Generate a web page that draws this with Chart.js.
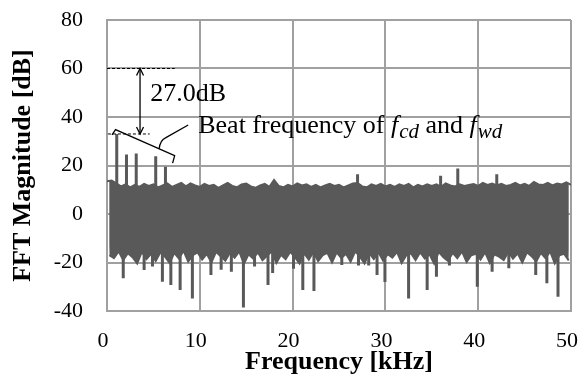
<!DOCTYPE html>
<html>
<head>
<meta charset="utf-8">
<script src="https://cdn.jsdelivr.net/npm/chart.js@4/dist/chart.umd.min.js"></script>
<style>
  html, body { margin: 0; padding: 0; background: #fff; }
  #fftChart { display: block; }
</style>
</head>
<body>
<canvas id="fftChart" width="584" height="376"></canvas>
<script>
// Noise floor: crest values on the 0.5 kHz bins, troughs half a bin later
const BIN_STEP = 0.5;
const noiseTop = [
    13.5, 13.8, 12.6, 11.4, 12.2, 11.0, 12.0, 11.2, 12.4, 11.6,
    12.2, 11.0, 11.8, 12.6, 11.2, 12.0, 12.8, 11.4, 12.6, 11.8,
    11.2, 12.4, 11.6, 12.0, 10.8, 11.8, 12.8, 11.6, 11.0, 12.2,
    12.6, 11.4, 10.8, 11.8, 12.4, 11.2, 14.0, 11.6, 11.0, 12.0,
    11.4, 12.6, 11.8, 12.2, 11.2, 12.0, 11.0, 11.8, 12.4, 11.6,
    12.0, 11.0, 11.8, 12.6, 12.8, 11.4, 11.0, 12.2, 11.6, 12.4,
    11.4, 12.0, 11.2, 12.2, 11.6, 12.4, 11.0, 12.0, 11.4, 12.2,
    11.6, 12.2, 11.2, 12.6, 11.8, 11.4, 12.2, 11.6, 12.0, 12.4,
    11.6, 12.8, 12.0, 12.6, 11.8, 12.4, 11.6, 12.0, 12.8, 11.8,
    12.4, 11.6, 13.2, 12.2, 12.0, 12.8, 11.8, 12.6, 12.2, 13.0,
    12.0
];
const noiseBottom = [
    -17.0, -18.2, -15.4, -19.0, -16.2, -17.8, -20.4, -15.6, -18.6, -16.4,
    -19.4, -15.8, -17.6, -20.2, -16.0, -18.4, -15.2, -19.6, -17.0, -15.8,
    -18.8, -16.4, -20.0, -15.6, -17.4, -19.2, -16.0, -18.0, -15.4, -20.6,
    -16.6, -18.4, -15.8, -19.0, -17.2, -15.4, -20.2, -16.8, -18.6, -15.6,
    -17.8, -20.4, -16.2, -18.8, -15.6, -19.4, -17.0, -16.0, -20.0, -15.8,
    -18.2, -16.4, -19.6, -15.4, -17.6, -20.4, -16.0, -18.6, -15.8, -19.2,
    -16.6, -18.0, -15.6, -20.2, -17.0, -16.2, -19.0, -15.8, -18.4, -16.6,
    -20.4, -15.6, -17.8, -19.4, -16.0, -18.2, -15.4, -19.8, -17.0, -16.4,
    -18.8, -15.8, -20.2, -16.6, -17.6, -19.0, -15.6, -18.4, -16.2, -20.0,
    -15.8, -17.4, -19.6, -16.0, -18.2, -15.4, -20.4, -17.0, -16.4, -19.2
];

// Narrow components outside the noise floor (first five: beat of f_cd and f_wd)
const spikeKHz = [1.05, 2.1, 3.15, 5.25, 6.3, 27.0, 35.95, 37.8, 42.0,
    1.75, 4.0, 4.9, 5.97, 6.88, 7.88, 9.2, 11.2, 12.3, 13.4, 14.7, 15.9,
    17.35, 17.85, 20.1, 21.1, 22.3, 25.3, 27.1, 28.2, 29.1, 29.95, 32.5,
    34.5, 35.5, 36.9, 39.9, 41.5, 43.3, 46.2, 47.4, 48.6];
const spikeDb = [33.0, 24.5, 25.0, 23.8, 19.5, 16.4, 15.8, 18.8, 16.4,
    -26.5, -23.1, -21.7, -27.9, -29.3, -31.3, -34.8, -25.2, -23.0, -23.8, -38.6, -21.7,
    -29.3, -24.3, -22.6, -31.3, -31.8, -21.0, -21.2, -21.2, -25.2, -28.0, -34.8,
    -31.3, -25.9, -21.2, -30.0, -23.8, -22.4, -25.2, -28.6, -34.1];

// Carrier level and the highest beat component
const carrierDb = 60;
const beatDb = spikeDb[0];

const SERIF = "'Liberation Serif', 'Times New Roman', serif";
const TRACE = '#595959';

const topPoints = noiseTop.map((db, i) => ({ x: i * BIN_STEP, y: db }));
const bottomPoints = noiseBottom.map((db, i) => ({ x: i * BIN_STEP + BIN_STEP / 2, y: db }));

// each spike rises out of the floor at 0 dB; null breaks the line between them
const spikePoints = [];
spikeKHz.forEach((f, i) => {
    spikePoints.push({ x: f, y: 0 }, { x: f, y: spikeDb[i] }, { x: f, y: null });
});

function noPadding(scale) {
    scale.paddingLeft = 0;
    scale.paddingRight = 0;
    scale.paddingTop = 0;
    scale.paddingBottom = 0;
}

const annotations = {
    id: 'annotations',
    afterDatasetsDraw(chart) {
        const { ctx } = chart;
        const px = v => chart.scales.x.getPixelForValue(v);
        const py = v => chart.scales.y.getPixelForValue(v);
        const seg = (x1, y1, x2, y2) => {
            ctx.beginPath();
            ctx.moveTo(x1, y1);
            ctx.lineTo(x2, y2);
            ctx.stroke();
        };

        ctx.save();
        ctx.strokeStyle = '#000';
        ctx.fillStyle = '#000';

        // dashed levels of carrier and beat peak
        ctx.lineWidth = 1;
        ctx.setLineDash([3, 2]);
        seg(px(0), py(carrierDb), px(7.3), py(carrierDb));
        seg(px(0.1), py(beatDb), px(4.6), py(beatDb));
        ctx.setLineDash([]);

        // double-headed arrow between the two levels
        const ax = px(3.56);
        const yTop = py(carrierDb), yBot = py(beatDb);
        ctx.lineWidth = 1.3;
        seg(ax, yTop, ax, yBot);
        ctx.beginPath();
        ctx.moveTo(ax - 3.5, yTop + 7);
        ctx.lineTo(ax, yTop);
        ctx.lineTo(ax + 3.5, yTop + 7);
        ctx.moveTo(ax - 3.5, yBot - 7);
        ctx.lineTo(ax, yBot);
        ctx.lineTo(ax + 3.5, yBot - 7);
        ctx.stroke();

        ctx.font = '26px ' + SERIF;
        ctx.textBaseline = 'alphabetic';
        ctx.textAlign = 'left';
        ctx.fillText((carrierDb - beatDb).toFixed(1) + 'dB', px(4.65), py(46.4));

        // brace over the beat components with a leader to its label
        ctx.lineWidth = 1.3;
        ctx.beginPath();
        ctx.moveTo(px(0.54), py(32.6));
        ctx.lineTo(px(0.92), py(34.8));
        ctx.lineTo(px(7.29), py(24.1));
        ctx.lineTo(px(7.07), py(21.0));
        ctx.stroke();
        ctx.beginPath();
        ctx.moveTo(px(5.62), py(26.9));
        ctx.quadraticCurveTo(px(5.72), py(30.4), px(6.3), py(31.4));
        ctx.lineTo(px(8.75), py(36.7));
        ctx.stroke();

        const parts = [
            { text: 'Beat frequency of ', font: '26px ' + SERIF, dy: 0 },
            { text: 'f', font: 'italic 26px ' + SERIF, dy: 0 },
            { text: 'cd', font: 'italic 21px ' + SERIF, dy: 5 },
            { text: ' and ', font: '26px ' + SERIF, dy: 0 },
            { text: 'f', font: 'italic 26px ' + SERIF, dy: 0 },
            { text: 'wd', font: 'italic 21px ' + SERIF, dy: 5 }
        ];
        let tx = px(9.83);
        const ty = py(33.4);
        parts.forEach(p => {
            ctx.font = p.font;
            ctx.fillText(p.text, tx, ty + p.dy);
            tx += ctx.measureText(p.text).width + (p.text === 'f' ? 1 : 0);
        });

        ctx.restore();
    }
};

new Chart(document.getElementById('fftChart'), {
    type: 'line',
    data: {
        datasets: [
            {
                // upper edge of the noise floor, filled down to the lower edge
                data: topPoints,
                borderColor: TRACE,
                backgroundColor: TRACE,
                borderWidth: 2,
                pointRadius: 0,
                fill: '+1'
            },
            {
                data: bottomPoints,
                borderColor: TRACE,
                borderWidth: 2,
                pointRadius: 0,
                fill: false
            },
            {
                data: spikePoints,
                borderColor: TRACE,
                borderWidth: 3,
                pointRadius: 0,
                spanGaps: false,
                fill: false
            }
        ]
    },
    options: {
        responsive: false,
        animation: false,
        devicePixelRatio: 1,
        layout: { padding: { top: 20, right: 13, left: 0, bottom: 0 } },
        plugins: {
            legend: { display: false },
            tooltip: { enabled: false }
        },
        scales: {
            x: {
                type: 'linear',
                min: 0,
                max: 50,
                afterFit: scale => { scale.height = 65; noPadding(scale); },
                ticks: {
                    stepSize: 10,
                    padding: 17,
                    labelOffset: -4,
                    color: '#000',
                    font: { family: SERIF, size: 22, lineHeight: 1.2 }
                },
                grid: { color: '#a0a0a0', lineWidth: 2, drawTicks: false },
                border: { color: '#a0a0a0', width: 2 },
                title: {
                    display: true,
                    text: 'Frequency [kHz]',
                    color: '#000',
                    padding: { top: 0, bottom: 1 },
                    font: { family: SERIF, size: 26, weight: 'bold', lineHeight: 1 }
                }
            },
            y: {
                min: -40,
                max: 80,
                afterFit: scale => { scale.width = 107; noPadding(scale); },
                ticks: {
                    stepSize: 20,
                    padding: 24,
                    color: '#000',
                    font: { family: SERIF, size: 22, lineHeight: 1.2 }
                },
                grid: { color: '#a0a0a0', lineWidth: 2, drawTicks: false },
                border: { color: '#a0a0a0', width: 2 },
                title: {
                    display: true,
                    text: 'FFT Magnitude [dB]',
                    color: '#000',
                    padding: { top: 10, bottom: 0 },
                    font: { family: SERIF, size: 26, weight: 'bold', lineHeight: 1 }
                }
            }
        }
    },
    plugins: [annotations]
});
</script>
</body>
</html>
